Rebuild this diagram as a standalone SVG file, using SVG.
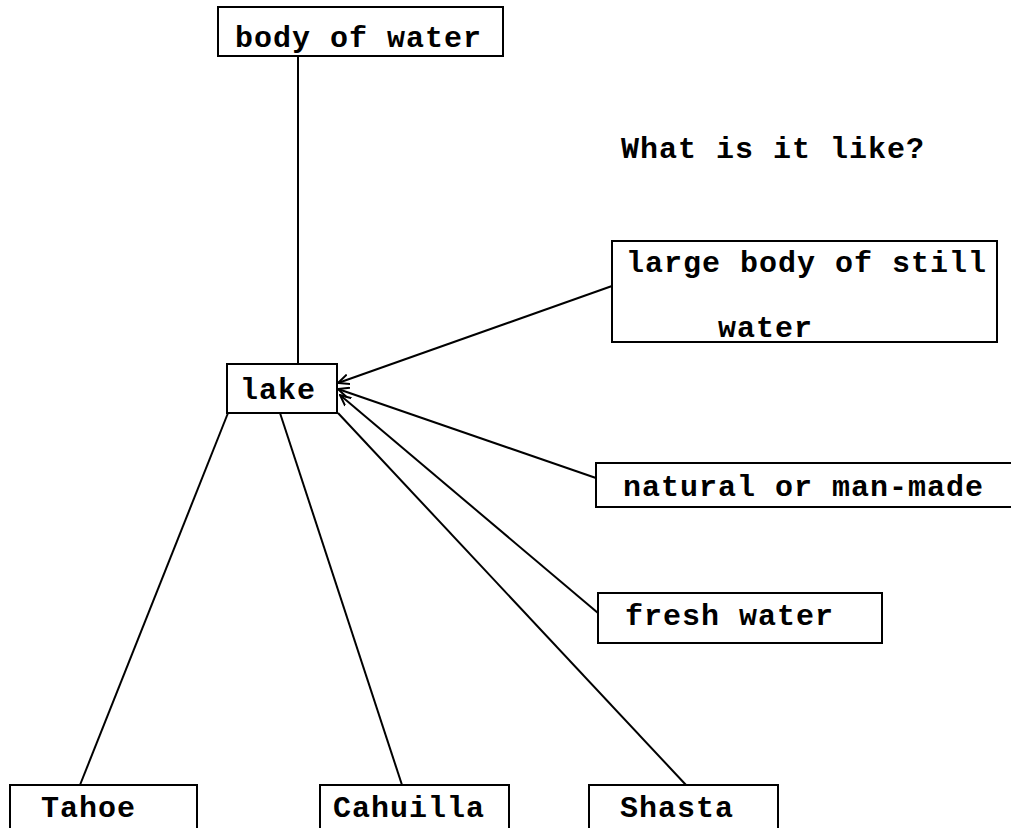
<svg xmlns="http://www.w3.org/2000/svg" width="1011" height="828" viewBox="0 0 1011 828">
<style>
.box{fill:none;stroke:#000;stroke-width:2}
.t{font-family:"Liberation Mono","DejaVu Sans Mono",monospace;font-size:30px;font-weight:bold;letter-spacing:1px;fill:#000}
.c{stroke:#000;stroke-width:2;fill:none}
</style>
<defs>
<marker id="ah" viewBox="0 0 12 12" refX="11" refY="6" markerWidth="12" markerHeight="12" markerUnits="userSpaceOnUse" orient="auto">
<path d="M0,1 L11,6 L0,11" fill="none" stroke="#000" stroke-width="2"/>
</marker>
</defs>
<rect width="1011" height="828" fill="#fff"/>
<g id="connectors">
<line class="c" x1="298" y1="56" x2="298" y2="364"/>
<line class="c" x1="612" y1="286" x2="338" y2="383" marker-end="url(#ah)"/>
<line class="c" x1="596" y1="478" x2="338" y2="389" marker-end="url(#ah)"/>
<line class="c" x1="598" y1="613" x2="340" y2="395" marker-end="url(#ah)"/>
<line class="c" x1="338" y1="413" x2="686" y2="785"/>
<line class="c" x1="280" y1="413" x2="402" y2="785"/>
<line class="c" x1="228" y1="413" x2="80" y2="785"/>
</g>
<g id="body-of-water">
<rect class="box" x="218" y="7" width="285" height="49"/>
<text class="t" x="235" y="47">body of water</text>
</g>
<g id="question">
<text class="t" x="621" y="158">What is it like?</text>
</g>
<g id="lake">
<rect class="box" x="227" y="364" width="110" height="49"/>
<text class="t" x="240" y="399">lake</text>
</g>
<g id="large-body">
<rect class="box" x="612" y="241" width="385" height="101"/>
<text class="t" x="626" y="272">large body of still</text>
<text class="t" x="718" y="337">water</text>
</g>
<g id="natural">
<rect class="box" x="596" y="463" width="420" height="44"/>
<text class="t" x="623" y="496">natural or man-made</text>
</g>
<g id="fresh">
<rect class="box" x="598" y="593" width="284" height="50"/>
<text class="t" x="625" y="625">fresh water</text>
</g>
<g id="tahoe">
<rect class="box" x="10" y="785" width="187" height="50"/>
<text class="t" x="41" y="817">Tahoe</text>
</g>
<g id="cahuilla">
<rect class="box" x="320" y="785" width="189" height="50"/>
<text class="t" x="333" y="817">Cahuilla</text>
</g>
<g id="shasta">
<rect class="box" x="589" y="785" width="189" height="50"/>
<text class="t" x="620" y="817">Shasta</text>
</g>
</svg>
